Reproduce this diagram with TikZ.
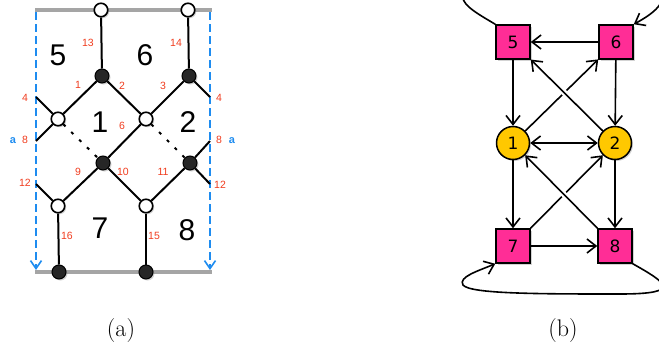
\documentclass[tikz,border=0pt]{standalone}
\usepackage{fontspec}
\newfontfamily\helv{Liberation Sans}
\newfontfamily\dejavu{DejaVu Sans}
\usetikzlibrary{arrows.meta,shadows}
\definecolor{redlab}{RGB}{240,60,30}
\definecolor{bluea}{RGB}{30,140,240}
\definecolor{graybar}{RGB}{165,165,165}
\definecolor{pinkc}{RGB}{255,45,150}
\definecolor{yellowc}{RGB}{255,200,0}
\begin{document}
\begin{tikzpicture}[x=1pt,y=-1pt,
  shad/.style={drop shadow={opacity=0.35,shadow xshift=1.5pt,shadow yshift=-1.5pt}},
  wdot/.style={circle,draw=black,fill=white,line width=1.6pt,minimum size=13.5pt,inner sep=0pt,shad},
  bdot/.style={circle,draw=black,fill=black!85,line width=1pt,minimum size=14pt,inner sep=0pt,shad},
  edge/.style={line width=2pt,black},
  dotedge/.style={line width=2pt,black,dash pattern=on 3pt off 8pt},
  bar/.style={line width=3.5pt,graybar},
  bnd/.style={line width=1.6pt,bluea,dash pattern=on 8pt off 4pt,-{Straight Barb[length=8pt,width=11pt]}},
  reg/.style={font=\helv\fontsize{30}{30}\selectfont,inner sep=0pt},
  rl/.style={text=redlab,font=\helv\fontsize{10.5}{11}\selectfont,inner sep=0pt},
  bl/.style={text=bluea,font=\helv\bfseries\fontsize{11}{11}\selectfont,inner sep=0pt},
  sq/.style={rectangle,draw=black,fill=pinkc,line width=1.5pt,minimum size=34pt,inner sep=0pt,font=\dejavu\fontsize{17}{17}\selectfont,shad},
  cir/.style={circle,draw=black,fill=yellowc,line width=1.5pt,minimum size=33pt,inner sep=0pt,font=\dejavu\fontsize{17}{17}\selectfont,shad},
  arr/.style={line width=1.6pt,-{Straight Barb[length=9pt,width=14pt]}},
  captxt/.style={font=\fontsize{24}{24}\selectfont,anchor=base,inner sep=0pt}]
\useasboundingbox (0,0) rectangle (659,351);
\clip (0,0) rectangle (659,351);
% ---------------- (a)
\coordinate (gl1) at (35,10); \coordinate (gr1) at (212,10);
\coordinate (gl2) at (35,272); \coordinate (gr2) at (212,272);
\draw[bar] (gl1) -- (gr1);
\draw[bar] (gl2) -- (gr2);
\coordinate (bl1) at (36,12); \coordinate (bl2) at (36,270);
\coordinate (br1) at (210,12); \coordinate (br2) at (210,270);
\draw[bnd] (bl1) -- (bl2);
\draw[bnd] (br1) -- (br2);
\coordinate (e1) at (36,97); \coordinate (e2) at (36,141); \coordinate (e3) at (36,184);
\coordinate (f1) at (210,97); \coordinate (f2) at (210,141); \coordinate (f3) at (210,184);
\node[wdot] (t1) at (101,10) {};
\node[wdot] (t2) at (188,10) {};
\node[bdot] (b1) at (102,76) {};
\node[bdot] (b2) at (189,76) {};
\node[wdot] (w1) at (58,119) {};
\node[wdot] (w2) at (146,119) {};
\node[bdot] (c1) at (103,163) {};
\node[bdot] (c2) at (190,163) {};
\node[wdot] (v1) at (58,206) {};
\node[wdot] (v2) at (146,206) {};
\node[bdot] (d1) at (59,272) {};
\node[bdot] (d2) at (146,272) {};
\draw[edge] (t1) -- (b1);
\draw[edge] (t2) -- (b2);
\draw[edge] (b1) -- (w1);
\draw[edge] (b1) -- (w2);
\draw[edge] (b2) -- (w2);
\draw[edge] (b2) -- (f1);
\draw[edge] (e1) -- (w1);
\draw[edge] (e2) -- (w1);
\draw[dotedge] (w1) -- (c1);
\draw[dotedge] (w2) -- (c2);
\draw[edge] (w2) -- (c1);
\draw[edge] (c2) -- (f2);
\draw[edge] (c1) -- (v1);
\draw[edge] (c1) -- (v2);
\draw[edge] (c2) -- (v2);
\draw[edge] (c2) -- (f3);
\draw[edge] (e3) -- (v1);
\draw[edge] (v1) -- (d1);
\draw[edge] (v2) -- (d2);
\node[reg] (r5) at (58,55) {5};
\node[reg] (r6) at (145,55) {6};
\node[reg] (r1) at (100,122) {1};
\node[reg] (r2) at (188,122) {2};
\node[reg] (r7) at (100,228) {7};
\node[reg] (r8) at (187,230) {8};
\node[rl] (l13) at (88,43) {13};
\node[rl] (l14) at (176,43) {14};
\node[rl] (l1) at (78,85) {1};
\node[rl] (l2) at (122,86) {2};
\node[rl] (l3) at (163,86) {3};
\node[rl] (l4a) at (25,98) {4};
\node[rl] (l4b) at (219,98) {4};
\node[rl] (l6) at (122,126) {6};
\node[rl] (l8a) at (25,140) {8};
\node[rl] (l8b) at (219,140) {8};
\node[bl] (aa) at (13,141) {a};
\node[bl] (ab) at (232,141) {a};
\node[rl] (l9) at (78,172) {9};
\node[rl] (l10) at (123,172) {10};
\node[rl] (l11) at (163,172) {11};
\node[rl] (l12a) at (25,183) {12};
\node[rl] (l12b) at (220,185) {12};
\node[rl] (l16) at (67,236) {16};
\node[rl] (l15) at (154,236) {15};
% ---------------- (b)
\node[sq] (n5) at (513,42) {5};
\node[sq] (n6) at (616,42) {6};
\node[cir] (n1) at (513,143) {1};
\node[cir] (n2) at (615,143) {2};
\node[sq] (n7) at (513,246) {7};
\node[sq] (n8) at (615,246) {8};
\draw[arr] (n6) -- (n5);
\draw[arr] (n5) -- (n1);
\draw[arr] (n6) -- (n2);
\draw[arr] (n1) -- (n6);
\draw[arr,preaction={draw=white,line width=6pt,-,shorten <=16pt,shorten >=16pt}] (n2) -- (n5);
\draw[arr,{Straight Barb[length=9pt,width=14pt]}-{Straight Barb[length=9pt,width=14pt]}] (n1) -- (n2);
\draw[arr] (n1) -- (n7);
\draw[arr] (n2) -- (n8);
\draw[arr] (n7) -- (n2);
\draw[arr,preaction={draw=white,line width=6pt,-,shorten <=16pt,shorten >=16pt}] (n8) -- (n1);
\draw[arr] (n7) -- (n8);
\draw[arr] (n5.north west) .. controls (468,8) and (452,0) .. (470,-20)
  .. controls (520,-40) and (640,-40) .. (660,-10)
  .. controls (666,0) and (660,10) .. (n6.north east);
\draw[arr] (n8.south east) .. controls (665,282) and (685,294) .. (620,294)
  .. controls (540,294) and (470,294) .. (463,285)
  .. controls (458,277) and (478,271) .. (n7.south west);
% captions
\node[captxt] (ca) at (121,336) {(a)};
\node[captxt] (cb) at (563,336) {(b)};
\end{tikzpicture}
\end{document}
